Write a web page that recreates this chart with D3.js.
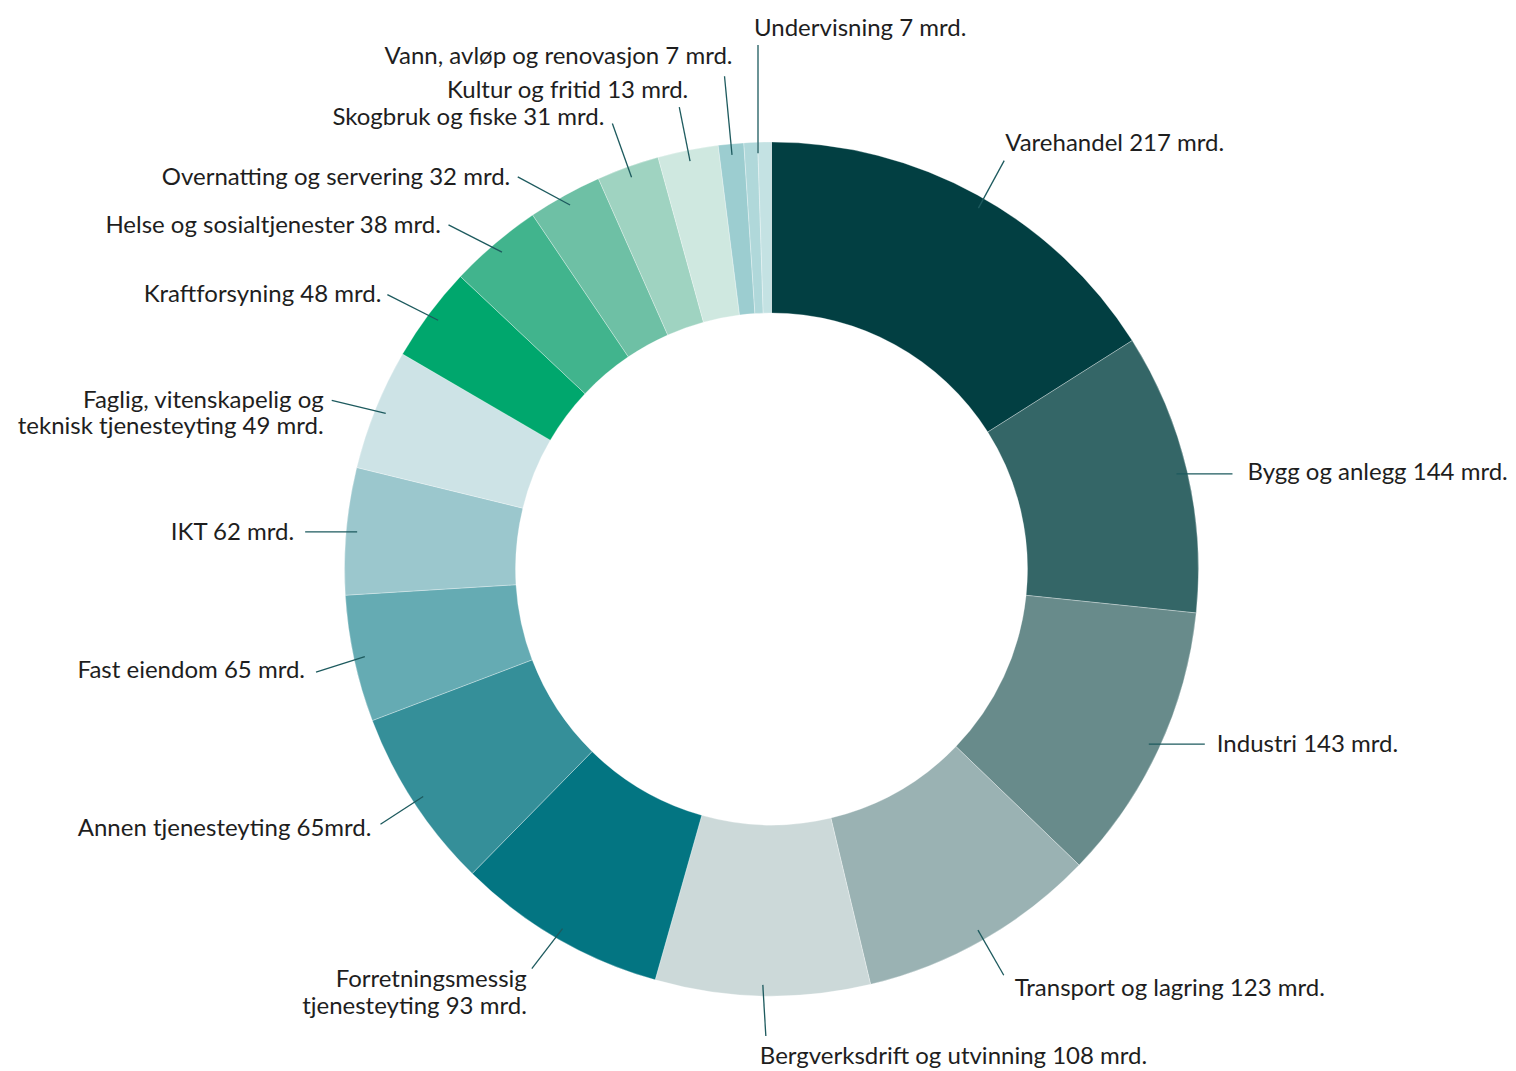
<!DOCTYPE html>
<html>
<head>
<meta charset="utf-8">
<script src="https://cdn.jsdelivr.net/npm/d3@7"></script>
<style>
  html, body { margin: 0; padding: 0; background: #fff; }
  svg { display: block; }
  text { font-family: Lato, "Noto Sans", sans-serif; fill: #1e1e1e; }
</style>
</head>
<body>
<svg id="chart" width="1516" height="1071"></svg>
<script>
// Slice values (mrd. kr), clockwise from 12 o'clock
const sliceValues = [217, 144, 143, 123, 110, 108, 93, 65, 65, 62, 49, 48, 38, 32, 31, 13, 7, 7];
const sliceColors = ["#023f42", "#346667", "#688b8b", "#9ab2b3", "#ccd9d9", "#037582",
                     "#358f99", "#65abb3", "#9bc7cd", "#cde3e6", "#00a76d", "#41b48d",
                     "#6ec0a5", "#9fd3c1", "#cfe8e0", "#9ccdd0", "#b0d8da", "#c4e2e3"];

// Labels as printed
const labelTexts = [
  ["Varehandel 217 mrd."],
  ["Bygg og anlegg 144 mrd."],
  ["Industri 143 mrd."],
  ["Transport og lagring 123 mrd."],
  ["Bergverksdrift og utvinning 108 mrd."],
  ["Forretningsmessig", "tjenesteyting 93 mrd."],
  ["Annen tjenesteyting 65mrd."],
  ["Fast eiendom 65 mrd."],
  ["IKT 62 mrd."],
  ["Faglig, vitenskapelig og", "teknisk tjenesteyting 49 mrd."],
  ["Kraftforsyning 48 mrd."],
  ["Helse og sosialtjenester 38 mrd."],
  ["Overnatting og servering 32 mrd."],
  ["Skogbruk og fiske 31 mrd."],
  ["Kultur og fritid 13 mrd."],
  ["Vann, avløp og renovasjon 7 mrd."],
  ["Undervisning 7 mrd."]
];
// Which slice(s) each label points at
const labelSlices = [[0],[1],[2],[3],[4],[5],[6],[7],[8],[9],[10],[11],[12],[13],[14],[15],[16,17]];

// ---- layout (not data) ----
const W = 1516, H = 1071;
const cx = 771.5, cy = 569;
const R = 427, r0 = 256;
const lineR0 = 416;

// per-label placement: mode, outer radius, angle shifts (deg), text anchor, dx, dy
const place = [
  {mode:"radial", r:470, ishift:1.0, shift:0.85, anchor:"start", dx:1,  dy:-18},
  {mode:"horiz",  len:56, anchor:"start", dx:15, dy:-2},
  {mode:"horiz",  len:56, anchor:"start", dx:12, dy:-1},
  {mode:"radial", r:468, anchor:"start", dx:11,  dy:12},
  {mode:"radial", r:467, shift:-0.5, anchor:"start", dx:-6, dy:20},
  {mode:"radial", r:466, shift:0.8, anchor:"end",   dx:-5, dy:10},
  {mode:"radial", r:467, anchor:"end",   dx:-9, dy:3},
  {mode:"radial", r:467, shift:-0.6, anchor:"end",   dx:-11, dy:-2.5},
  {mode:"horiz",  len:-52, anchor:"end",   dx:-11, dy:-0.5},
  {mode:"radial", r:471, shift:-1, anchor:"end",   dx:-8, dy:-1},
  {mode:"radial", r:472, shift:-1.2, anchor:"end",   dx:-6, dy:-1},
  {mode:"radial", r:472, shift:-2.8, anchor:"end", dx:-7.5, dy:-0.5},
  {mode:"radial", r:467, shift:-3.95, anchor:"end", dx:-7.5, dy:-0.5},
  {mode:"radial", r:473, anchor:"end",   dx:-8, dy:-7},
  {mode:"radial", r:471, anchor:"end",   dx:9,  dy:-18},
  {mode:"radial", r:495, anchor:"end",   dx:8,  dy:-20.5},
  {mode:"vert",   r:524, anchor:"start", dx:-4, dy:-17}
];
const lineGap = 26.5;
const fontSize = 24;

const svg = d3.select("#chart");
const g = svg.append("g");

const pie = d3.pie().sort(null).value(d => d).startAngle(0).endAngle(2 * Math.PI);
const arcs = pie(sliceValues);
const arc = d3.arc().innerRadius(r0).outerRadius(R);

g.append("g").attr("transform", `translate(${cx},${cy})`)
  .selectAll("path").data(arcs).join("path")
  .attr("d", arc)
  .attr("fill", (d, i) => sliceColors[i])
  .attr("stroke", "#ffffff").attr("stroke-opacity", 0.5).attr("stroke-width", 0.6);

const pt = (a, rr) => [cx + rr * Math.sin(a), cy - rr * Math.cos(a)];
const deg = Math.PI / 180;

const labels = g.append("g");
labelTexts.forEach((lines, i) => {
  const idx = labelSlices[i];
  const a0 = arcs[idx[0]].startAngle, a1 = arcs[idx[idx.length - 1]].endAngle;
  const a = (a0 + a1) / 2;
  const p = place[i];
  const inner = pt(a + (p.ishift || 0) * deg, lineR0);
  let outer;
  if (p.mode === "horiz") outer = [inner[0] + p.len, inner[1]];
  else if (p.mode === "vert") outer = [inner[0], cy - p.r];
  else outer = pt(a + (p.shift || 0) * deg, p.r);

  labels.append("line")
    .attr("x1", inner[0]).attr("y1", inner[1])
    .attr("x2", outer[0]).attr("y2", outer[1])
    .attr("stroke", "#1d5a5e").attr("stroke-width", 1.3);

  const t = labels.append("text")
    .attr("text-anchor", p.anchor)
    .attr("font-size", fontSize)
    .attr("x", outer[0] + p.dx)
    .attr("y", outer[1] + p.dy);
  lines.forEach((s, k) => {
    t.append("tspan")
      .attr("x", outer[0] + p.dx)
      .attr("dy", k === 0 ? "0.35em" : lineGap)
      .text(s);
  });
});
</script>
</body>
</html>
